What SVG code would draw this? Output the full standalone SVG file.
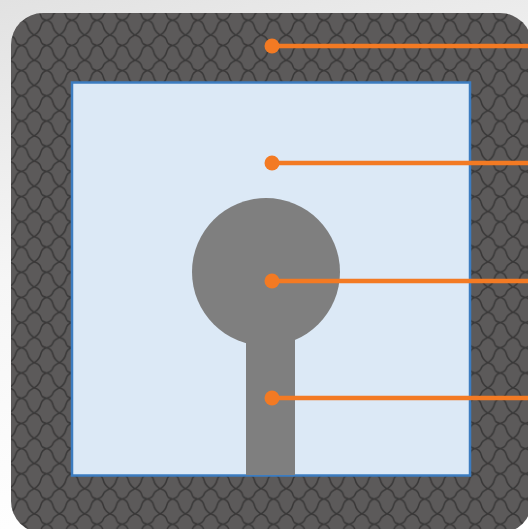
<svg xmlns="http://www.w3.org/2000/svg" width="528" height="529" viewBox="0 0 528 529">
  <defs>
    <linearGradient id="bg" x1="0" y1="0" x2="0.25" y2="1">
      <stop offset="0" stop-color="#e2e2e2"/>
      <stop offset="0.5" stop-color="#f6f6f6"/>
      <stop offset="1" stop-color="#ffffff"/>
    </linearGradient>
    <pattern id="scales" width="30" height="30" patternUnits="userSpaceOnUse" patternTransform="translate(9 10) scale(0.84)">
      <rect width="30" height="30" fill="#5c5a5a"/>
      <path class="sc" d="M0 0C5 1 7 3 8 7S11 11 15 12C19 13 21 15 22 19S25 27 30 30M30 0C25 2 23 4 22 7S19 11 15 12M15 12C11 13 9 15 8 19S5 27 0 30"/>
    </pattern>
    <filter id="soft" x="0" y="0" width="1" height="1"><feGaussianBlur stdDeviation="0.6"/></filter>
    <style>
      .sc{fill:none;stroke:#393838;stroke-width:1.8}
      .ld{fill:none;stroke:#f37a23;stroke-width:4.500}
      .dot{fill:#f37a23}
      .metal{fill:#7f7f7f}
    </style>
  </defs>
  <rect id="background" width="528" height="529" fill="url(#bg)"/>
  <g id="outer-layer"><rect x="11" y="13" width="521" height="520" rx="32" fill="url(#scales)" filter="url(#soft)"/></g>
  <g id="inner-window"><rect x="72" y="82.500" width="398" height="393" fill="#dce9f6" stroke="#3c7cc0" stroke-width="2.500"/></g>
  <g id="metal-shape">
    <circle class="metal" cx="266" cy="272" r="74"/>
    <rect class="metal" x="246" y="330" width="49" height="145"/>
  </g>
  <g id="connectors">
    <path class="ld" d="M272 46H528M272 163H528M272 281H528M272 398H528"/>
    <circle class="dot" cx="272" cy="46" r="7.500"/>
    <circle class="dot" cx="272" cy="163" r="7.500"/>
    <circle class="dot" cx="272" cy="281" r="7.500"/>
    <circle class="dot" cx="272" cy="398" r="7.500"/>
  </g>
</svg>
